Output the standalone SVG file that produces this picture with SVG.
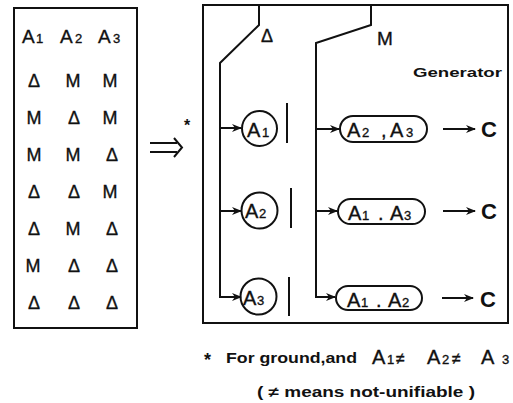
<svg xmlns="http://www.w3.org/2000/svg" width="513" height="403" viewBox="0 0 513 403">
<defs>
<style>
.ln{fill:none;stroke:#111;stroke-width:2}
.t{font-family:"Liberation Sans",Arial,sans-serif;fill:#111;stroke:#111;stroke-width:0.35}
.tb{font-family:"Liberation Sans",Arial,sans-serif;font-weight:bold;fill:#111}
.cell{font-size:18px;text-anchor:middle}
.big{font-size:19px}
.a{font-size:20px}
.sub{font-size:13px}
</style>
<marker id="ah" markerWidth="10" markerHeight="8" refX="9" refY="4" orient="auto" markerUnits="userSpaceOnUse">
<path d="M0,0 L10,4 L0,8 L3,4 Z" fill="#111"/>
</marker>
</defs>
<rect width="513" height="403" fill="#fff"/>

<g id="table">
<rect x="14" y="8" width="123" height="320" class="ln"/>
<text class="t big" y="43"><tspan x="22">A</tspan><tspan class="sub" x="36">1</tspan><tspan x="60">A</tspan><tspan class="sub" x="75">2</tspan><tspan x="98">A</tspan><tspan class="sub" x="113">3</tspan></text>
<g class="t cell">
<text y="87"><tspan x="34">Δ</tspan><tspan x="73">M</tspan><tspan x="110">M</tspan></text>
<text y="124"><tspan x="34">M</tspan><tspan x="74">Δ</tspan><tspan x="110">M</tspan></text>
<text y="161"><tspan x="34">M</tspan><tspan x="73">M</tspan><tspan x="112">Δ</tspan></text>
<text y="198"><tspan x="34">Δ</tspan><tspan x="74">Δ</tspan><tspan x="110">M</tspan></text>
<text y="235"><tspan x="34">Δ</tspan><tspan x="73">M</tspan><tspan x="112">Δ</tspan></text>
<text y="272"><tspan x="33">M</tspan><tspan x="74">Δ</tspan><tspan x="112">Δ</tspan></text>
<text y="309"><tspan x="34">Δ</tspan><tspan x="74">Δ</tspan><tspan x="112">Δ</tspan></text>
</g>
</g>

<g id="implies">
<path d="M150,143 H177 M150,152 H177" class="ln" stroke-width="1.6"/>
<path d="M174,138 L182,147.5 L174,157" class="ln" stroke-width="2"/>
<text class="tb" x="184" y="131" font-size="16">*</text>
</g>

<g id="generator-box">
<rect x="203" y="5" width="305" height="318" class="ln"/>
<text class="t" x="261" y="42" font-size="18">Δ</text>
<text class="t" x="377" y="45" font-size="19">M</text>
<text class="tb" x="413" y="77" font-size="13" textLength="89" lengthAdjust="spacingAndGlyphs">Generator</text>
</g>

<g id="connectors">
<path d="M259,5 V25 L220,63 V297 H241" class="ln" marker-end="url(#ah)"/>
<path d="M220,128 H241" class="ln" marker-end="url(#ah)"/>
<path d="M220,211 H241" class="ln" marker-end="url(#ah)"/>
<path d="M371,5 V25 L316,43 V297 H335" class="ln" marker-end="url(#ah)"/>
<path d="M316,129 H339" class="ln" marker-end="url(#ah)"/>
<path d="M316,211 H337" class="ln" marker-end="url(#ah)"/>
<path d="M443,129 H475" class="ln" marker-end="url(#ah)"/>
<path d="M443,211 H475" class="ln" marker-end="url(#ah)"/>
<path d="M442,298 H473" class="ln" marker-end="url(#ah)"/>
<path d="M287,103 V143 M291,188 V228 M289,277 V316" class="ln"/>
</g>

<g id="a1">
<circle cx="259.5" cy="128.5" r="17.5" class="ln" stroke-width="1.8"/>
<text class="t a" y="137"><tspan x="247">A</tspan><tspan class="sub" x="262">1</tspan></text>
</g>
<g id="a2">
<circle cx="259.5" cy="210.5" r="18" class="ln" stroke-width="1.8"/>
<text class="t a" y="218"><tspan x="245">A</tspan><tspan class="sub" x="259">2</tspan></text>
</g>
<g id="a3">
<circle cx="258.5" cy="296.5" r="18" class="ln" stroke-width="1.8"/>
<text class="t a" y="305"><tspan x="243">A</tspan><tspan class="sub" x="257">3</tspan></text>
</g>

<g id="p1">
<rect x="340" y="116" width="87" height="26" rx="13" class="ln" stroke-width="1.8"/>
<text class="t a" y="137"><tspan x="347">A</tspan><tspan class="sub" x="362">2</tspan><tspan x="381">,</tspan><tspan x="390">A</tspan><tspan class="sub" x="406">3</tspan></text>
</g>
<g id="p2">
<rect x="338" y="199" width="87" height="25" rx="12.5" class="ln" stroke-width="1.8"/>
<text class="t a" y="220"><tspan x="348">A</tspan><tspan class="sub" x="362">1</tspan><tspan x="378">.</tspan><tspan x="390">A</tspan><tspan class="sub" x="404">3</tspan></text>
</g>
<g id="p3">
<rect x="336" y="286" width="86" height="24" rx="12" class="ln" stroke-width="1.8"/>
<text class="t a" y="307"><tspan x="347">A</tspan><tspan class="sub" x="361">1</tspan><tspan x="376">.</tspan><tspan x="388">A</tspan><tspan class="sub" x="402">2</tspan></text>
</g>

<g id="c1"><text class="tb" x="481" y="137" font-size="22">C</text></g>
<g id="c2"><text class="tb" x="481" y="219" font-size="22">C</text></g>
<g id="c3"><text class="tb" x="480" y="307" font-size="22">C</text></g>

<g id="footnote">
<text class="tb" x="204" y="366" font-size="18">*</text>
<text class="tb" x="226" y="363" font-size="15" textLength="131" lengthAdjust="spacingAndGlyphs">For ground,and</text>
<text class="t" y="364" font-size="20"><tspan x="372">A</tspan><tspan font-size="13" x="387">1</tspan><tspan font-size="16" x="396">≠</tspan><tspan x="427">A</tspan><tspan font-size="13" x="442">2</tspan><tspan font-size="16" x="452">≠</tspan><tspan x="481">A</tspan><tspan font-size="13" x="502">3</tspan></text>
<text class="tb" x="257" y="397" font-size="14" textLength="218" lengthAdjust="spacingAndGlyphs">( ≠ means not-unifiable )</text>
</g>
</svg>
